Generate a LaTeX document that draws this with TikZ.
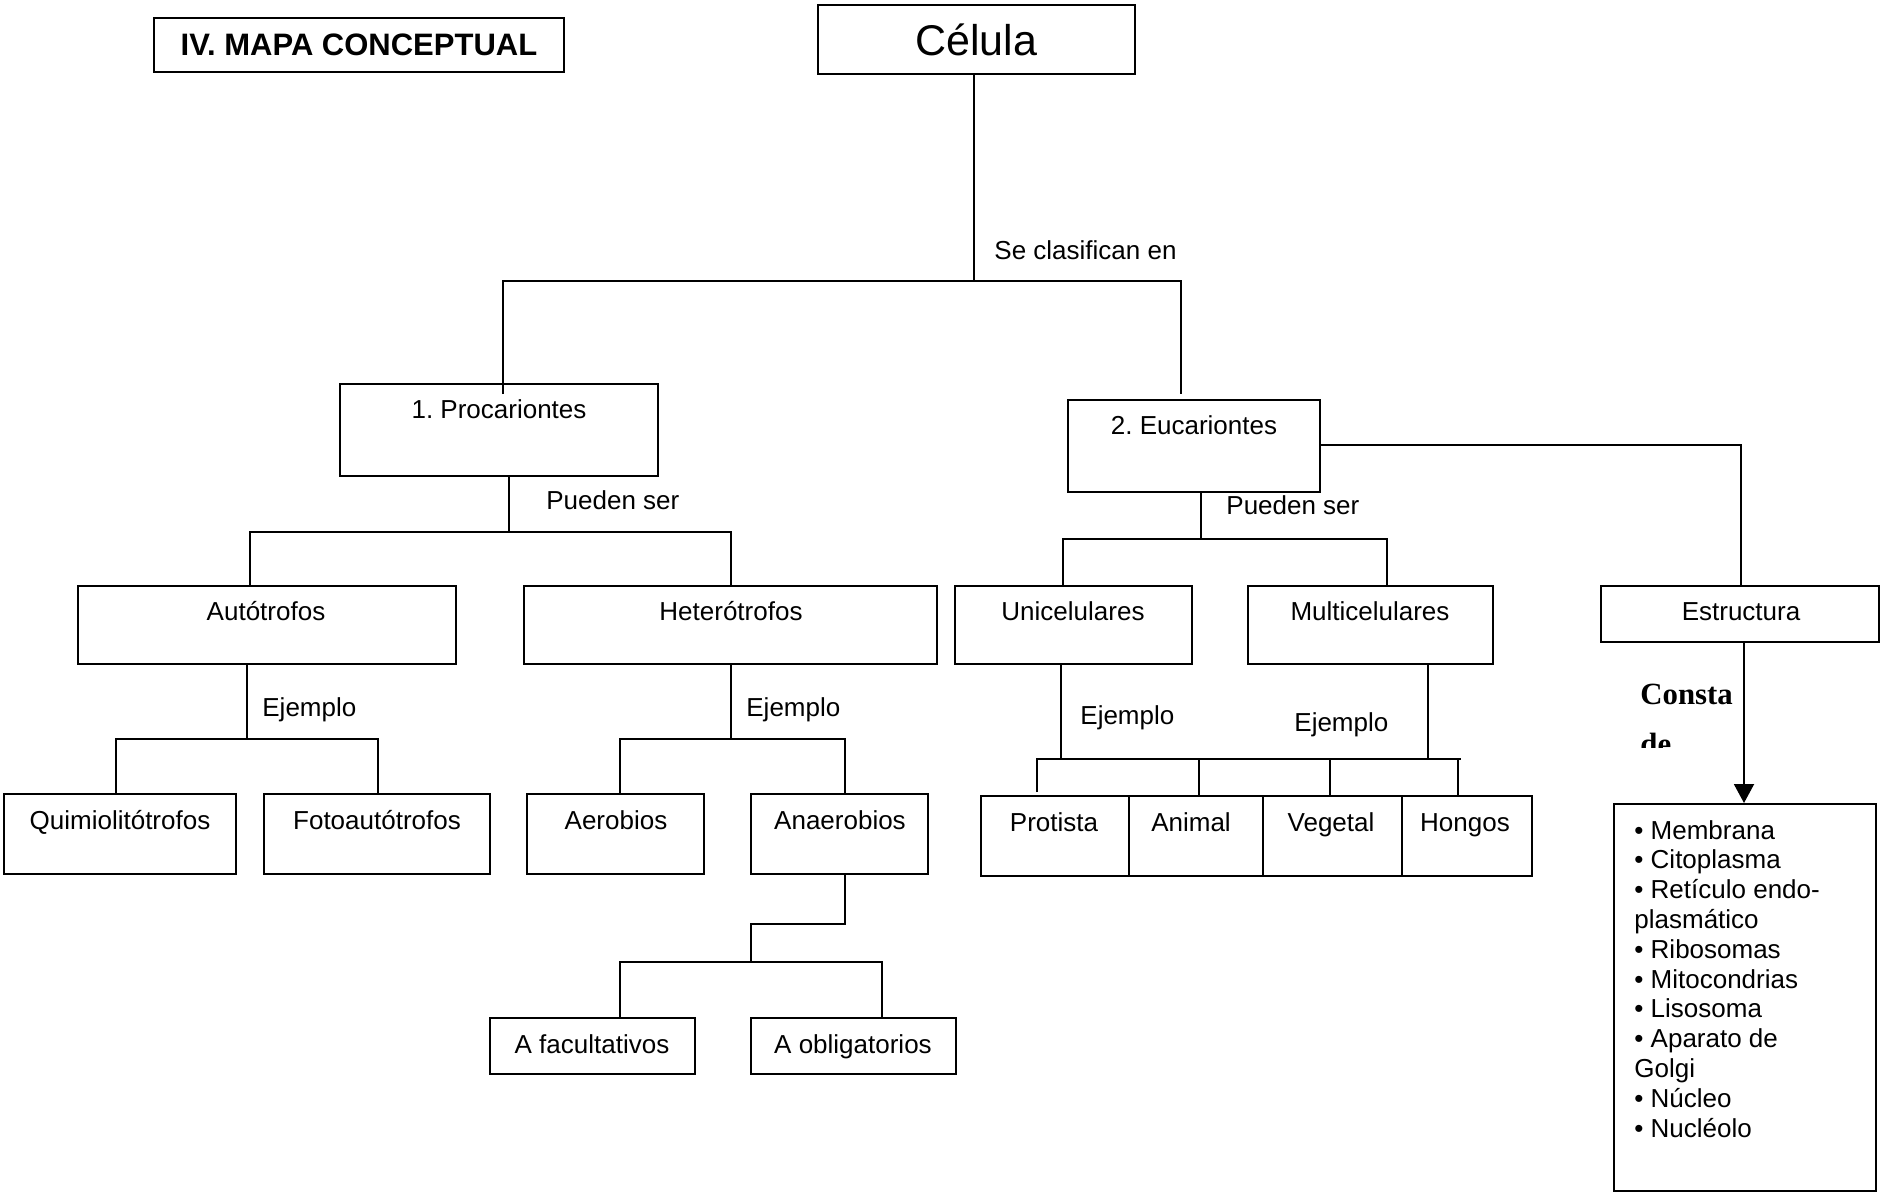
\documentclass[tikz,border=0pt]{standalone}
\usepackage{fontspec}
\setmainfont{Liberation Sans}
\newfontfamily\serifface{Liberation Serif}
\usetikzlibrary{fit,arrows.meta}
\frenchspacing

\begin{document}
\begin{tikzpicture}[x=0.5pt,y=-0.5pt,
  box/.style={draw,line width=1pt,inner sep=0pt},
  link/.style={line width=1pt},
  lbl/.style={font=\fontsize{13pt}{15pt}\selectfont,inner sep=0pt},
  lblc/.style={lbl,anchor=base},
  lbll/.style={lbl,anchor=base west}]

\useasboundingbox (0,0) rectangle (1881,1193);

% ---- boxes ----
\node[box,fit={(154,18)(564,72)}]    (title)   {};
\node[box,fit={(818,5)(1135,74)}]    (celula)  {};
\node[box,fit={(340,384)(658,476)}]  (proc)    {};
\node[box,fit={(1068,400)(1320,492)}](euc)     {};
\node[box,fit={(78,586)(456,664)}]   (auto)    {};
\node[box,fit={(524,586)(937,664)}]  (hetero)  {};
\node[box,fit={(4,794)(236,874)}]    (quimio)  {};
\node[box,fit={(264,794)(490,874)}]  (foto)    {};
\node[box,fit={(527,794)(704,874)}]  (aero)    {};
\node[box,fit={(751,794)(928,874)}]  (anaero)  {};
\node[box,fit={(490,1018)(695,1074)}](afac)    {};
\node[box,fit={(751,1018)(956,1074)}](aobl)    {};
\node[box,fit={(955,586)(1192,664)}] (uni)     {};
\node[box,fit={(1248,586)(1493,664)}](multi)   {};
\node[box,fit={(981,796)(1129,876)}] (protista){};
\node[box,fit={(1129,796)(1263,876)}](animal)  {};
\node[box,fit={(1263,796)(1402,876)}](vegetal) {};
\node[box,fit={(1402,796)(1532,876)}](hongos)  {};
\node[box,fit={(1601,586)(1879,642)}](estr)    {};
\node[box,fit={(1614,804)(1876,1191)}](lista)  {};

% ---- box texts ----
\node[lblc,font=\bfseries\fontsize{15.5pt}{18pt}\selectfont] (ttitle) at (359,56) {IV. MAPA CONCEPTUAL};
\node[lblc,font=\fontsize{21.5pt}{24pt}\selectfont] (tcelula) at (976,56) {Célula};
\node[lblc] (tproc)     at (499,418)  {1. Procariontes};
\node[lblc] (teuc)      at (1194,434) {2. Eucariontes};
\node[lblc] (tauto)     at (266,620)  {Autótrofos};
\node[lblc] (thetero)   at (731,620)  {Heterótrofos};
\node[lblc] (tquimio)   at (120,829)  {Quimiolitótrofos};
\node[lblc] (tfoto)     at (377,829)  {Fotoautótrofos};
\node[lblc] (taero)     at (616,829)  {Aerobios};
\node[lblc] (tanaero)   at (840,829)  {Anaerobios};
\node[lblc] (tafac)     at (592,1053) {A facultativos};
\node[lblc] (taobl)     at (853,1053) {A obligatorios};
\node[lblc] (tuni)      at (1073,620) {Unicelulares};
\node[lblc] (tmulti)    at (1370,620) {Multicelulares};
\node[lblc] (tprotista) at (1054,831) {Protista};
\node[lblc] (tanimal)   at (1191,831) {Animal};
\node[lblc] (tvegetal)  at (1331,831) {Vegetal};
\node[lblc] (thongos)   at (1465,831) {Hongos};
\node[lblc] (testr)     at (1741,620) {Estructura};

% ---- link words ----
\node[lbll] (wclas)  at (994,259)  {Se clasifican en};
\node[lbll] (wpue1)  at (546,509)  {Pueden ser};
\node[lbll] (wpue2)  at (1226,514) {Pueden ser};
\node[lbll] (wej1)   at (262,716)  {Ejemplo};
\node[lbll] (wej2)   at (746,716)  {Ejemplo};
\node[lbll] (wej3)   at (1080,724) {Ejemplo};
\node[lbll] (wej4)   at (1294,731) {Ejemplo};

% "Consta de" sits in a text frame that cuts off its second line
\begin{scope}
  \clip (1630,660) rectangle (1740,747);
  \node[lbll,font=\serifface\bfseries\fontsize{15.4pt}{18pt}\selectfont] (wconsta) at (1640,704) {Consta};
  \node[lbll,font=\serifface\bfseries\fontsize{15.4pt}{18pt}\selectfont] (wde) at (1640,754) {de};
\end{scope}

% ---- list of structures ----
\foreach \t [count=\i from 0] in {• Membrana,• Citoplasma,• Retículo endo-,plasmático,• Ribosomas,• Mitocondrias,• Lisosoma,• Aparato de,Golgi,• Núcleo,• Nucléolo}
  \node[lbll] (item\i) at (1634,839+29.8*\i) {\t};

% ---- connectors ----
% Célula -> Procariontes / Eucariontes
\coordinate (r0) at (974,281);
\coordinate (rl) at (503,281);
\coordinate (rr) at (1181,281);
\coordinate (rlend) at (503,394);
\coordinate (rrend) at (1181,394);
\draw[link] (r0 |- celula.south) -- (r0);
\draw[link] (rlend) -- (rl) -- (rr) -- (rrend);

% Procariontes -> Autótrofos / Heterótrofos
\coordinate (p0) at (509,532);
\coordinate (pl) at (250,532);
\coordinate (pr) at (731,532);
\draw[link] (p0 |- proc.south) -- (p0);
\draw[link] (pl |- auto.north) -- (pl) -- (pr) -- (pr |- hetero.north);

% Autótrofos -> Quimiolitótrofos / Fotoautótrofos
\coordinate (a0) at (247,739);
\coordinate (al) at (116,739);
\coordinate (ar) at (378,739);
\draw[link] (a0 |- auto.south) -- (a0);
\draw[link] (al |- quimio.north) -- (al) -- (ar) -- (ar |- foto.north);

% Heterótrofos -> Aerobios / Anaerobios
\coordinate (h0) at (731,739);
\coordinate (hl) at (620,739);
\coordinate (hr) at (845,739);
\draw[link] (h0 |- hetero.south) -- (h0);
\draw[link] (hl |- aero.north) -- (hl) -- (hr) -- (hr |- anaero.north);

% Anaerobios -> A facultativos / A obligatorios
\coordinate (n1) at (845,924);
\coordinate (n2) at (751,924);
\coordinate (n3) at (751,962);
\coordinate (nl) at (620,962);
\coordinate (nr) at (882,962);
\draw[link] (n1 |- anaero.south) -- (n1) -- (n2) -- (n3);
\draw[link] (nl |- afac.north) -- (nl) -- (nr) -- (nr |- aobl.north);

% Eucariontes -> Estructura
\coordinate (e1) at (1741,445);
\draw[link] (euc.east |- e1) -- (e1) -- (e1 |- estr.north);

% Eucariontes -> Unicelulares / Multicelulares
\coordinate (e0) at (1201,539);
\coordinate (el) at (1063,539);
\coordinate (er) at (1387,539);
\draw[link] (e0 |- euc.south) -- (e0);
\draw[link] (el |- uni.north) -- (el) -- (er) -- (er |- multi.north);

% Unicelulares / Multicelulares -> kingdoms
\coordinate (u0) at (1061,759);
\coordinate (m0) at (1428,759);
\coordinate (kl) at (1037,759);
\coordinate (kr) at (1461,759);
\coordinate (kdl) at (1037,792);
\coordinate (k1) at (1199,759);
\coordinate (k2) at (1330,759);
\coordinate (k3) at (1458,759);
\draw[link] (u0 |- uni.south) -- (u0);
\draw[link] (m0 |- multi.south) -- (m0);
\draw[link] (kdl) -- (kl) -- (kr);
\draw[link] (k1) -- (k1 |- animal.north);
\draw[link] (k2) -- (k2 |- vegetal.north);
\draw[link] (k3) -- (k3 |- hongos.north);

% Estructura -> list
\coordinate (s0) at (1744,700);
\draw[link,-{Triangle[width=10pt,length=9.5pt]}] (s0 |- estr.south) -- (s0 |- lista.north);

\end{tikzpicture}
\end{document}
